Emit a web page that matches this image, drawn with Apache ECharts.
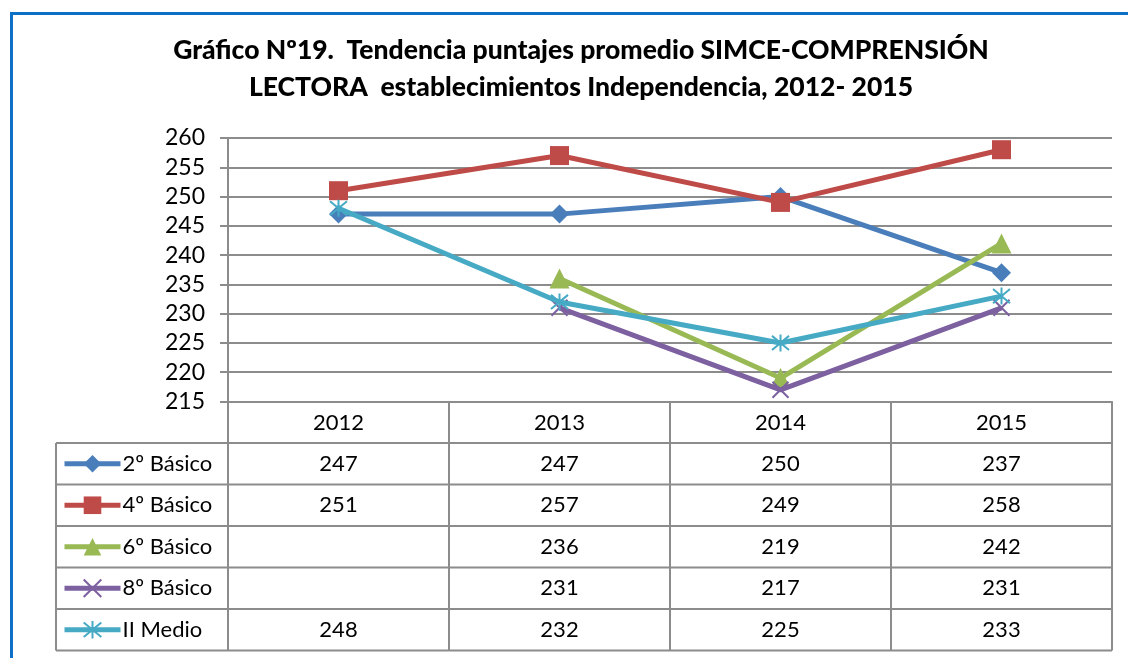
<!DOCTYPE html>
<html>
<head>
<meta charset="utf-8">
<script src="https://cdn.jsdelivr.net/npm/echarts@6/dist/echarts.min.js"></script>
<style>
html, body { margin: 0; padding: 0; background: #fff; }
#chart { width: 1128px; height: 658px; }
</style>
</head>
<body>
<div id="chart"></div>
<script>
// ------------------------------------------------------- //
// Data
// ------------------------------------------------------ //
var years = ['2012', '2013', '2014', '2015'];
var names = ['2º Básico', '4º Básico', '6º Básico', '8º Básico', 'II Medio'];
var basico2 = [247, 247, 250, 237];
var basico4 = [251, 257, 249, 258];
var basico6 = [null, 236, 219, 242];
var basico8 = [null, 231, 217, 231];
var medio2 = [248, 232, 225, 233];
var yMin = 215, yMax = 260, yStep = 5;

var rows = [basico2, basico4, basico6, basico8, medio2];
var colors = ['#4a7ebb', '#be4b48', '#98b954', '#7d60a0', '#46aac5'];
var font = 'Lato, "Open Sans", sans-serif';
var grayLine = '#8c8c8c';
var gridTop = 138, gridBottomY = 401.5;
var rowH = 41.5;

var chart = echarts.init(document.getElementById('chart'));

function lineSeries(i, symbol, size, hollow) {
    return {
        name: names[i],
        type: 'line',
        data: rows[i],
        symbol: symbol,
        symbolSize: size,
        showAllSymbol: true,
        connectNulls: false,
        lineStyle: {color: colors[i], width: 5},
        itemStyle: hollow
            ? {color: 'rgba(0,0,0,0)', borderColor: colors[i], borderWidth: 2}
            : {color: colors[i], borderWidth: 0},
        emphasis: {disabled: true},
        z: 3 + i
    };
}

// one legend per table row, so each key sits in its own cell
var legends = names.map(function (n, r) {
    return {
        orient: 'horizontal',
        left: 62,
        top: gridBottomY + rowH * (r + 1.5) - 12,
        padding: 0,
        itemWidth: 56,
        itemHeight: 22,
        itemGap: 0,
        selectedMode: false,
        lineStyle: {width: 5},
        textStyle: {fontFamily: font, fontSize: 22, lineHeight: 24, color: '#000', padding: [0, 0, 0, -3]},
        data: [n]
    };
});

var option = {
    animation: false,
    title: {
        text: 'Gráfico Nº19.  Tendencia puntajes promedio SIMCE-COMPRENSIÓN\nLECTORA  establecimientos Independencia, 2012- 2015',
        left: 576,
        textAlign: 'center',
        top: 27,
        textStyle: {fontFamily: font, fontWeight: 900, fontSize: 26.5, lineHeight: 37, color: '#000'}
    },
    legend: legends,
    grid: {left: 228, right: 16, top: gridTop, bottom: 658 - gridBottomY, containLabel: false},
    xAxis: {
        type: 'category',
        data: years,
        boundaryGap: true,
        axisLine: {show: true, lineStyle: {color: grayLine, width: 2}},
        axisTick: {show: false},
        axisLabel: {fontFamily: font, fontSize: 22, color: '#000', margin: 10}
    },
    yAxis: {
        type: 'value',
        min: yMin,
        max: yMax,
        interval: yStep,
        axisLine: {show: true, lineStyle: {color: grayLine, width: 2}},
        axisTick: {show: true, length: 8, lineStyle: {color: grayLine, width: 2}},
        axisLabel: {fontFamily: font, fontSize: 23, color: '#000', margin: 23},
        splitLine: {show: true, lineStyle: {color: grayLine, width: 2}}
    },
    series: [
        lineSeries(0, 'diamond', 19, false),
        lineSeries(1, 'rect', 19, false),
        lineSeries(2, 'triangle', 20, false),
        lineSeries(3, 'path://M0,0L10,10M10,0L0,10', 16, true),
        lineSeries(4, 'path://M0,0L10,10M10,0L0,10M5,-1L5,11', 17, true)
    ]
};
chart.setOption(option);

// ------------------------------------------------------- //
// Data table under the plot, laid out from the axes
// ------------------------------------------------------ //
function drawTable() {
    var c0 = chart.convertToPixel({xAxisIndex: 0}, years[0]);
    var c1 = chart.convertToPixel({xAxisIndex: 0}, years[1]);
    var step = c1 - c0;
    var left = c0 - step / 2;
    var right = left + step * years.length;
    var top = chart.convertToPixel({yAxisIndex: 0}, yMin);
    var bottom = top + rowH * (rows.length + 1);
    var keyLeft = 56;
    var els = [];
    var ls = {stroke: grayLine, lineWidth: 2};

    for (var j = 0; j <= years.length; j++) {
        var x = left + step * j;
        els.push({type: 'line', shape: {x1: x, y1: top, x2: x, y2: bottom}, style: ls, silent: true});
    }
    for (var k = 1; k <= rows.length + 1; k++) {
        var y = top + rowH * k;
        els.push({type: 'line', shape: {x1: keyLeft, y1: y, x2: right, y2: y}, style: ls, silent: true});
    }
    els.push({type: 'line', shape: {x1: keyLeft, y1: top + rowH, x2: keyLeft, y2: bottom}, style: ls, silent: true});

    rows.forEach(function (vals, r) {
        vals.forEach(function (v, j) {
            if (v == null) return;
            els.push({
                type: 'text', silent: true,
                x: c0 + step * j, y: top + rowH * (r + 1.5),
                style: {text: String(v), font: '22px ' + font, fill: '#000', align: 'center', verticalAlign: 'middle'}
            });
        });
    });

    // blue frame of the chart object
    els.push({type: 'rect', shape: {x: 11.5, y: 13.5, width: 1200, height: 700},
        style: {fill: 'none', stroke: '#0e6fc7', lineWidth: 3}, silent: true});

    chart.setOption({graphic: {elements: els}});
}
drawTable();

window.addEventListener('resize', function () {
    chart.resize();
    drawTable();
});
</script>
</body>
</html>
